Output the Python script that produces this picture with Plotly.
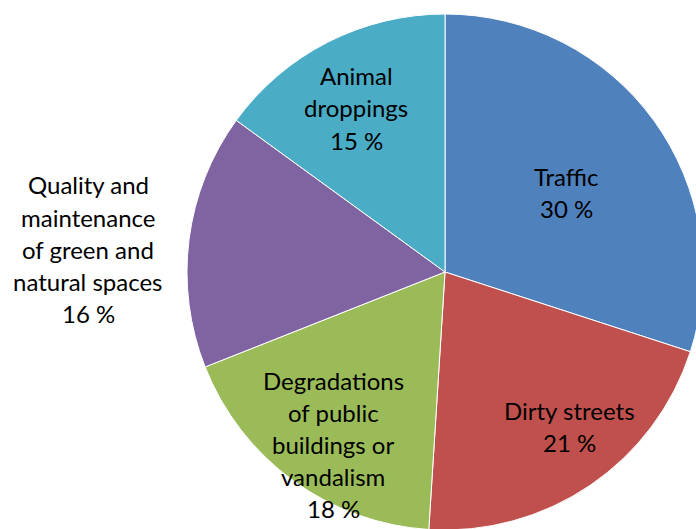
import plotly.graph_objects as go

# ---- data ----
categories = ["Traffic", "Dirty streets", "Degradations of public buildings or vandalism",
              "Quality and maintenance of green and natural spaces", "Animal droppings"]
values = [30, 21, 18, 16, 15]
label_lines = [
    ["Traffic"],
    ["Dirty streets"],
    ["Degradations", "of public", "buildings or", "vandalism"],
    ["Quality and", "maintenance", "of green and", "natural spaces"],
    ["Animal", "droppings"],
]
colors = ["#4F81BD", "#C0504D", "#9BBB59", "#8064A2", "#4BACC6"]

# ---- layout (pixels) ----
W, H = 710, 540
pie_left, pie_right, pie_top, pie_bottom = 187, 703, 14, 530
# label block anchors: (x center, y of first line) in pixels
label_pos = [(566, 176), (569, 410), (333, 380), (88, 185), (356, 76)]
line_gap = 32
FONT = "Lato, 'Open Sans', sans-serif"
FSIZE = 24

fig = go.Figure(go.Pie(
    labels=categories,
    values=values,
    sort=False,
    direction="clockwise",
    rotation=0,
    marker=dict(colors=colors, line=dict(color="white", width=1)),
    textinfo="none",
    hoverinfo="label+percent",
    showlegend=False,
    domain=dict(x=[pie_left / W, pie_right / W], y=[1 - pie_bottom / H, 1 - pie_top / H]),
))

annotations = []
for lines, v, (px, py) in zip(label_lines, values, label_pos):
    all_lines = lines + [f"{v} %"]
    for i, t in enumerate(all_lines):
        y = py + i * line_gap
        annotations.append(dict(
            text=t, x=px / W, y=1 - y / H, xref="paper", yref="paper",
            showarrow=False, xanchor="center", yanchor="middle",
            font=dict(family=FONT, size=FSIZE, color="black"),
        ))

fig.update_layout(
    width=W, height=H,
    margin=dict(l=0, r=0, t=0, b=0),
    paper_bgcolor="white", plot_bgcolor="white",
    annotations=annotations,
)

fig.write_html("out.html",
               config={"displayModeBar": False},
               post_script="document.body.style.margin='0';document.body.style.overflow='hidden';")
